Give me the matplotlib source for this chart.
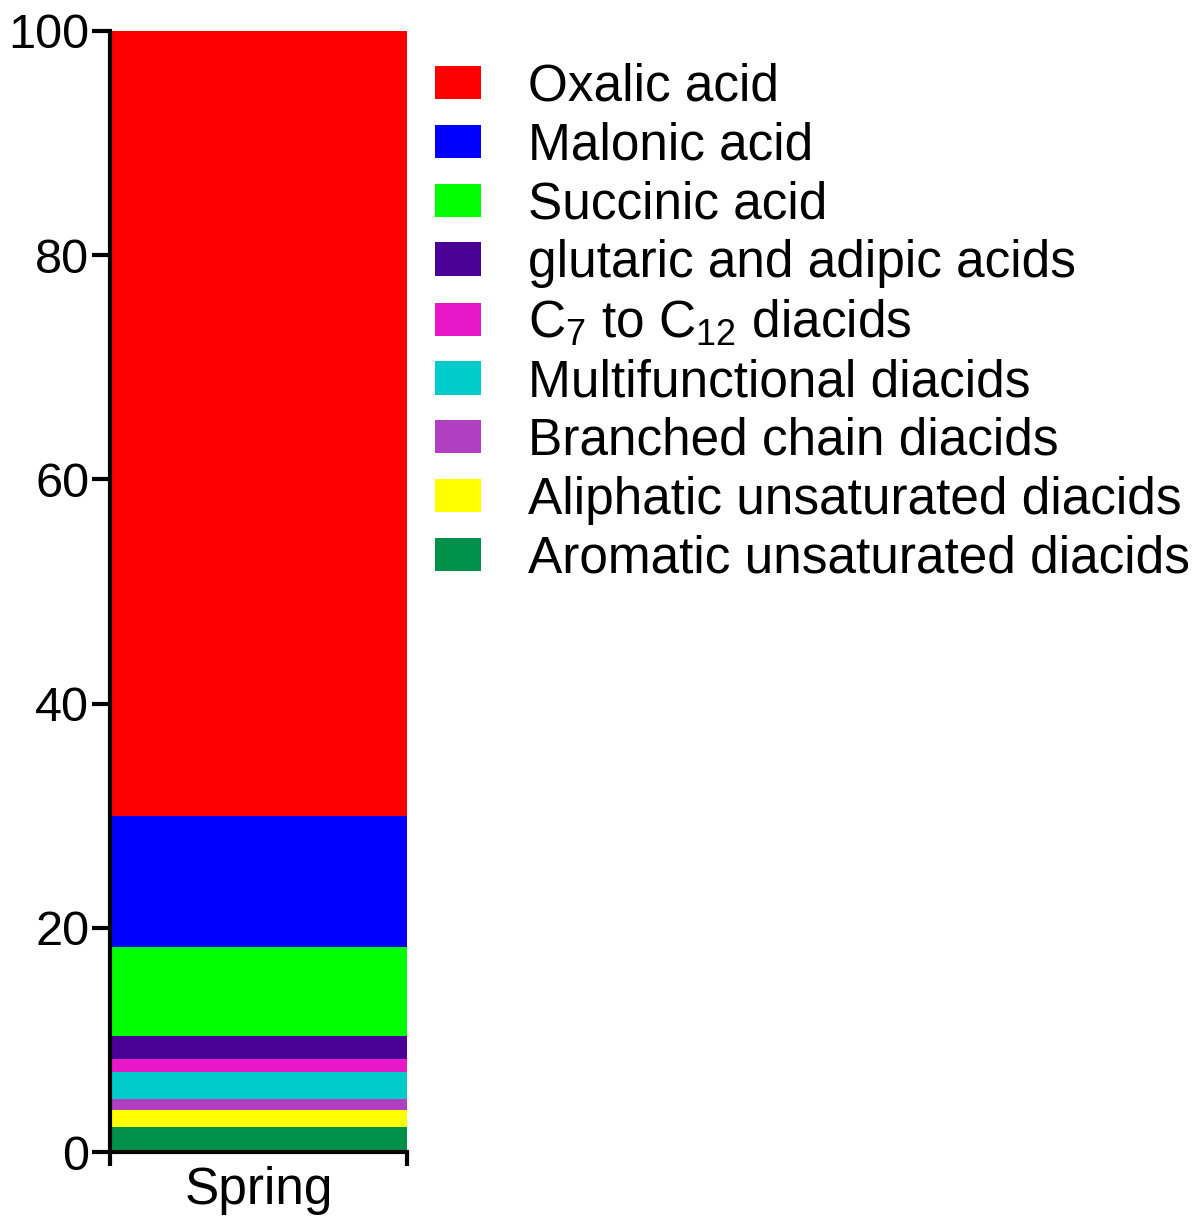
import matplotlib
matplotlib.use("Agg")
import matplotlib.pyplot as plt
import numpy as np

plt.rcParams['font.family'] = ['Liberation Sans', 'DejaVu Sans']
plt.rcParams['mathtext.fontset'] = 'custom'
plt.rcParams['mathtext.rm'] = 'Liberation Sans'
plt.rcParams['mathtext.it'] = 'Liberation Sans'

# data (percent of total diacids), bottom to top of the stack
season = ["Spring"]
labels = [
    "Oxalic acid",
    "Malonic acid",
    "Succinic acid",
    "glutaric and adipic acids",
    r"C$_7$ to C$_{12}$ diacids",
    "Multifunctional diacids",
    "Branched chain diacids",
    "Aliphatic unsaturated diacids",
    "Aromatic unsaturated diacids",
]
values = [70.05, 11.65, 7.93, 2.08, 1.13, 2.46, 0.96, 1.51, 2.23]
colors = ["#ff0000", "#0000ff", "#00ff00", "#4b0096", "#e817c8",
          "#00cccc", "#b040c0", "#ffff00", "#00904a"]

fig = plt.figure(figsize=(12, 12.32), dpi=100)
ax = fig.add_axes([0.0917, 0.0649, 0.2475, 0.91])

# stack from the last entry (bottom) up to oxalic acid (top)
order = list(range(len(values)))[::-1]
stack_vals = [values[i] for i in order]
bottoms = np.concatenate([[0], np.cumsum(stack_vals)[:-1]])
handles = {}
for k, i in enumerate(order):
    b = ax.bar(0, values[i], width=1.0, bottom=bottoms[k], color=colors[i],
               label=labels[i], linewidth=0)
    handles[i] = b

ax.set_xlim(-0.5, 0.5)
ax.set_ylim(0, 100)
ax.set_yticks([0, 20, 40, 60, 80, 100])
ax.tick_params(axis='y', labelsize=35, width=3, length=13, direction='out', pad=2)
ax.set_xticks([0])
ax.set_xticklabels(season)
ax.tick_params(axis='x', which='major', labelsize=37, length=0, pad=10)
ax.set_xticks([-0.5, 0.5], minor=True)
ax.tick_params(axis='x', which='minor', width=3, length=10, direction='out')

for s in ['top', 'right']:
    ax.spines[s].set_visible(False)
for s in ['left', 'bottom']:
    ax.spines[s].set_linewidth(3)

leg = fig.legend([handles[i] for i in range(len(values))], labels,
                 loc='upper left', bbox_to_anchor=(0.3625, 0.949),
                 frameon=False, fontsize=37, handlelength=0.9,
                 handleheight=0.62, handletextpad=0.9, labelspacing=0.19,
                 borderaxespad=0, borderpad=0)

fig.savefig("out.png", dpi=100)
